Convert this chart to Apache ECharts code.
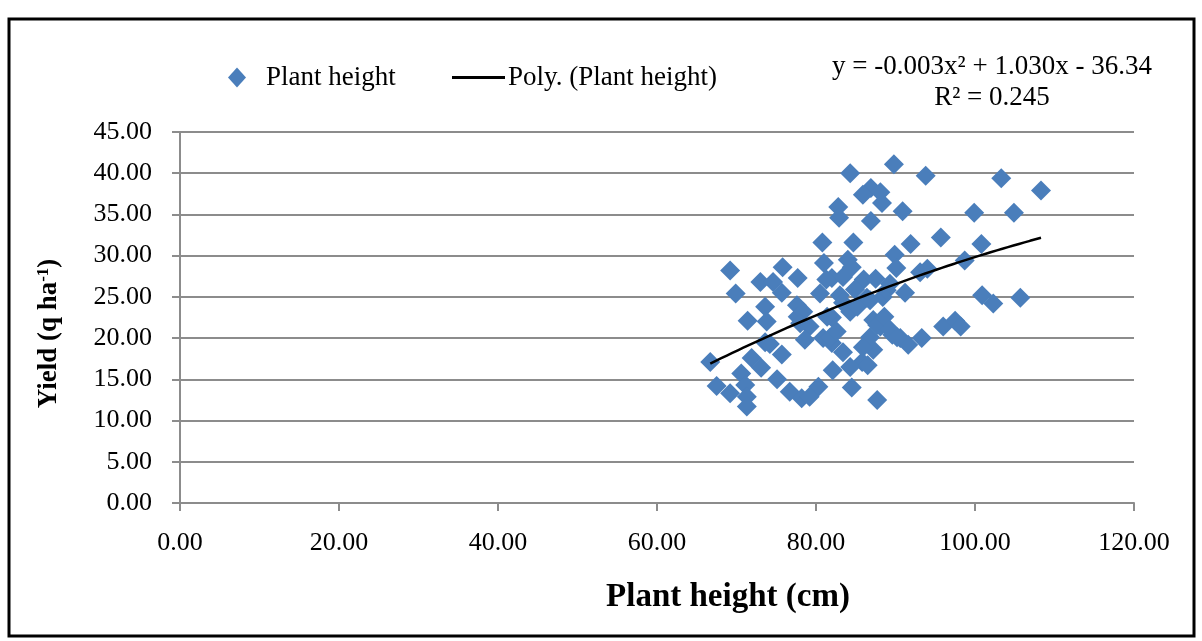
<!DOCTYPE html>
<html>
<head>
<meta charset="utf-8">
<script src="https://cdn.jsdelivr.net/npm/echarts@6/dist/echarts.min.js"></script>
<style>
html,body{margin:0;padding:0;background:#fff;}
#chart{width:1202px;height:641px;}
</style>
</head>
<body>
<div id="chart"></div>
<script>
// Data
const plantHeight = [69.2,75.8,73.0,74.6,77.7,84.3,89.8,93.8,86.9,85.9,
  88.1,88.3,82.8,82.9,86.9,90.9,80.8,84.7,91.9,95.7,
  89.9,81.0,84.0,84.5,90.1,82.0,83.4,93.1,94.0,86.0,
  87.5,103.3,108.3,99.9,104.9,100.8,98.7,69.9,75.7,73.6,
  77.6,71.4,73.8,77.7,73.6,74.2,75.7,66.7,71.9,73.1,
  70.6,75.1,67.5,71.1,69.2,71.3,76.7,71.3,78.2,80.5,
  83.0,78.4,79.2,82.0,84.3,86.4,88.4,91.2,87.2,88.1,
  89.6,90.6,91.6,93.3,96.0,78.6,80.9,82.0,83.4,87.2,
  85.8,86.5,84.3,82.1,80.3,79.2,84.5,87.7,100.9,102.3,
  105.7,97.5,98.2,78.0,81.4,83.4,85.2,86.8,88.9,87.7,
  88.6,81.8,82.6,86.8,85.9,89.3,90.2,89.3,84.9,81.3];
const yieldValues = [28.2,28.6,26.8,26.8,27.3,40.0,41.1,39.7,38.2,37.4,
  37.7,36.4,35.9,34.6,34.2,35.4,31.6,31.6,31.4,32.2,
  30.1,29.1,29.5,28.6,28.5,27.3,27.4,28.0,28.4,27.1,
  27.2,39.4,37.9,35.2,35.2,31.4,29.4,25.4,25.5,23.8,
  24.0,22.1,22.0,22.6,19.5,19.3,18.0,17.1,17.6,16.4,
  15.7,15.0,14.2,14.3,13.3,12.9,13.5,11.7,12.7,25.4,
  25.2,23.2,21.4,22.5,23.2,24.9,25.0,25.5,22.2,21.4,
  20.4,20.0,19.2,20.0,21.4,19.8,20.0,19.4,18.3,18.6,
  17.1,16.7,16.5,16.1,14.1,12.9,14.0,12.5,25.2,24.2,
  24.9,22.1,21.4,21.8,22.6,24.3,23.8,24.6,25.8,21.6,
  22.6,20.1,20.8,20.1,18.9,21.0,20.1,26.6,25.9,27.1];
const seriesNames = ['Plant height', 'Poly. (Plant height)'];
const equationLines = ['y = -0.003x\u00B2 + 1.030x - 36.34', 'R\u00B2 = 0.245'];
const xAxisTitle = 'Plant height (cm)';

// Least-squares 2nd order polynomial trendline computed from the scatter data
function polyFit2(xs, ys) {
  let n = xs.length, sx=0, sx2=0, sx3=0, sx4=0, sy=0, sxy=0, sx2y=0;
  for (let i=0;i<n;i++){const x=xs[i],y=ys[i];sx+=x;sx2+=x*x;sx3+=x*x*x;sx4+=x*x*x*x;sy+=y;sxy+=x*y;sx2y+=x*x*y;}
  const A=[[n,sx,sx2,sy],[sx,sx2,sx3,sxy],[sx2,sx3,sx4,sx2y]];
  for (let c=0;c<3;c++){
    let p=c; for(let r=c+1;r<3;r++) if(Math.abs(A[r][c])>Math.abs(A[p][c])) p=r;
    [A[c],A[p]]=[A[p],A[c]];
    for(let r=0;r<3;r++){ if(r===c) continue; const f=A[r][c]/A[c][c]; for(let k=c;k<4;k++) A[r][k]-=f*A[c][k]; }
  }
  return [A[0][3]/A[0][0], A[1][3]/A[1][1], A[2][3]/A[2][2]];
}
const coef = polyFit2(plantHeight, yieldValues);
const xMin = Math.min(...plantHeight), xMax = Math.max(...plantHeight);
const trend = [];
for (let i=0;i<=60;i++){ const x = xMin + (xMax-xMin)*i/60; trend.push([x, coef[0]+coef[1]*x+coef[2]*x*x]); }

const scatterData = plantHeight.map((x,i)=>[x, yieldValues[i]]);
const FONT = '"Liberation Serif","Times New Roman",serif';
const gridColor = '#8c8c8c';
const legendText = {fontFamily:FONT, fontSize:27, color:'#000'};

const chart = echarts.init(document.getElementById('chart'), null, {renderer:'canvas'});
chart.setOption({
  animation:false,
  backgroundColor:'#fff',
  textStyle:{fontFamily:FONT},
  grid:{left:180, top:132, width:954, height:371, containLabel:false},
  legend:[
    {left:223, top:59, itemWidth:18, itemHeight:20,
     textStyle:Object.assign({padding:[0,0,0,15]}, legendText),
     data:[{name:seriesNames[0], icon:'diamond'}]},
    {left:447, top:59, itemWidth:53, itemHeight:3,
     textStyle:Object.assign({padding:[0,0,0,-2]}, legendText),
     data:[{name:seriesNames[1], icon:'rect', itemStyle:{color:'#000'}}]}
  ],
  xAxis:{
    type:'value', min:0, max:120, interval:20,
    name:xAxisTitle, nameLocation:'middle', nameGap:78,
    nameTextStyle:{fontFamily:FONT, fontSize:33, fontWeight:'bold', color:'#000', padding:[0,0,0,142]},
    axisLine:{show:true, onZero:false, lineStyle:{color:gridColor, width:2}},
    axisTick:{show:true, length:8, lineStyle:{color:gridColor, width:2}},
    splitLine:{show:false},
    axisLabel:{fontFamily:FONT, fontSize:26, color:'#000', margin:27, formatter:v=>v.toFixed(2)}
  },
  yAxis:{
    type:'value', min:0, max:45, interval:5,
    name:'{b|Yield (q ha}{s|-1}{b|)}', nameLocation:'middle', nameGap:116,
    nameTextStyle:{padding:[0,32,0,0], rich:{
      b:{fontFamily:FONT, fontSize:27, fontWeight:'bold', color:'#000'},
      s:{fontFamily:FONT, fontSize:17, fontWeight:'bold', color:'#000', padding:[0,0,12,0]}
    }},
    axisLine:{show:true, lineStyle:{color:gridColor, width:2}},
    axisTick:{show:true, length:8, lineStyle:{color:gridColor, width:2}},
    splitLine:{show:true, lineStyle:{color:gridColor, width:2}},
    axisLabel:{fontFamily:FONT, fontSize:26, color:'#000', margin:28, formatter:v=>v.toFixed(2)}
  },
  graphic:[
    {type:'rect', shape:{x:9, y:19, width:1185, height:617}, style:{fill:'none', stroke:'#000', lineWidth:3}, z:100, silent:true},
    {type:'text', x:992, y:67, style:{text:equationLines[0], font:'27px '+FONT, fill:'#000', textAlign:'center', textVerticalAlign:'middle'}},
    {type:'text', x:992, y:98, style:{text:equationLines[1], font:'27px '+FONT, fill:'#000', textAlign:'center', textVerticalAlign:'middle'}}
  ],
  series:[
    {name:seriesNames[0], type:'scatter', symbol:'diamond', symbolSize:20, data:scatterData,
     itemStyle:{color:'#4a7ebb', opacity:1}, z:2},
    {name:seriesNames[1], type:'line', data:trend, showSymbol:false, symbol:'none', smooth:false,
     lineStyle:{color:'#000', width:2.5}, itemStyle:{color:'#000'}, z:3}
  ]
});
</script>
</body>
</html>
